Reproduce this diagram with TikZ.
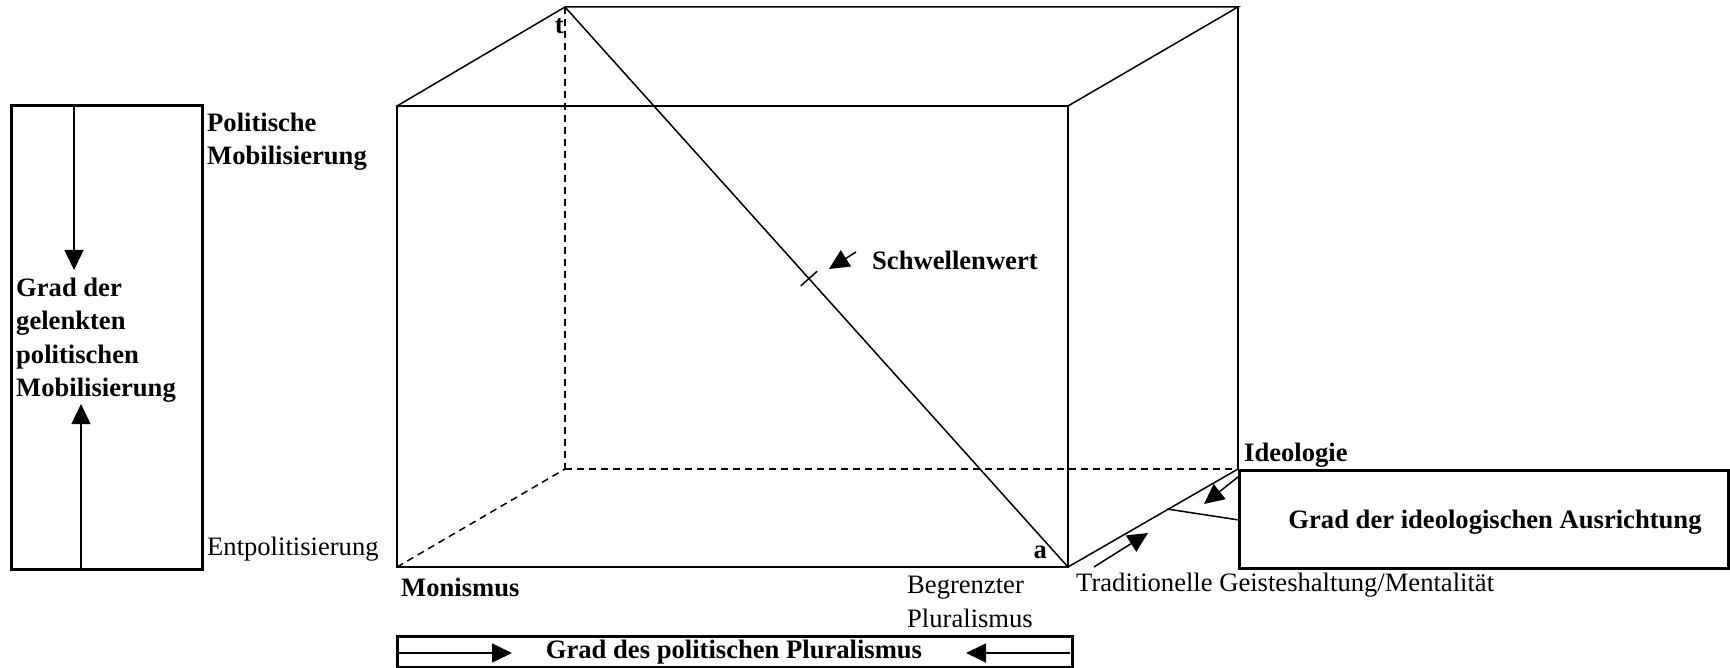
\documentclass[tikz,border=0pt]{standalone}
\usepackage{fontspec}
\setmainfont{Liberation Serif}
\usetikzlibrary{arrows.meta,calc}
\begin{document}
\begin{tikzpicture}[x=1pt,y=-1pt,
  thinl/.style={line width=1.5pt},
  dashl/.style={line width=1.5pt,dash pattern=on 7pt off 5pt},
  boxl/.style={draw,line width=3pt,inner sep=0pt},
  arr/.style={line width=1.5pt,-{Triangle[length=20pt,width=19pt]}},
  txt/.style={inner sep=0pt,font=\fontsize{26.6}{33.5}\selectfont},
  btxt/.style={inner sep=0pt,font=\fontsize{26.6}{33.5}\selectfont\bfseries}]
\useasboundingbox (0,0) rectangle (1730,668);
% cube corners
\coordinate (ftl) at (397,106);
\coordinate (ftr) at (1068,106);
\coordinate (fbl) at (397,567);
\coordinate (fbr) at (1068,567);
\coordinate (btl) at (565,7);
\coordinate (btr) at (1238,7);
\coordinate (bbl) at (565,469);
\coordinate (bbr) at (1238,469);
% hidden edges
\draw[dashl] (btl) -- (bbl);
\draw[dashl] (bbl) -- (bbr);
\draw[dashl] (fbl) -- (bbl);
% visible edges
\draw[thinl] (ftl) -- (ftr) -- (fbr) -- (fbl) -- cycle;
\draw[thinl] (ftl) -- (btl) -- (btr) -- (ftr);
\draw[thinl] (btr) -- (bbr);
\draw[thinl] (fbr) -- (bbr);
% diagonal
\draw[thinl] (btl) -- (fbr);
\coordinate (tick) at ($(btl)!0.485!(fbr)$);
\draw[thinl] ($(tick)!11pt!90:(fbr)$) -- ($(tick)!11pt!-90:(fbr)$);
\node[btxt,anchor=east] (t) at (564,26) {t};
\node[btxt,anchor=east] (a) at (1047,552) {a};
% Schwellenwert
\node[btxt,anchor=west] (schw) at (872,260) {Schwellenwert};
\coordinate (s1) at (856,252);
\coordinate (s2) at (829,269);
\draw[arr] (s1) -- (s2);
% left box
\node[boxl,minimum width=191pt,minimum height=463pt] (lbox) at (107,337.5) {};
\node[btxt,anchor=west,align=left] (lt) at (16,340) {Grad der\\gelenkten\\politischen\\Mobilisierung};
\coordinate (d1) at (74,106);
\coordinate (d2) at (74,270);
\coordinate (u1) at (81,569);
\coordinate (u2) at (81,404);
\draw[arr] (d1) -- (d2);
\draw[arr] (u1) -- (u2);
\node[btxt,anchor=west,align=left] (pm) at (207,141.5) {Politische\\Mobilisierung};
\node[txt,anchor=west] (ent) at (207,549) {Entpolitisierung};
% bottom labels
\node[btxt,anchor=west] (mon) at (401,587) {Monismus};
\node[txt,anchor=west,align=left] (beg) at (907,602) {Begrenzter\\Pluralismus};
% bottom box
\node[boxl,minimum width=675pt,minimum height=31pt] (bbox) at (734.5,651.5) {};
\node[btxt] (bt) at (734,652) {Grad des politischen Pluralismus};
\coordinate (l1) at (399,653);
\coordinate (l2) at (512,653);
\coordinate (r1) at (1070,653);
\coordinate (r2) at (966,653);
\draw[arr] (l1) -- (l2);
\draw[arr] (r1) -- (r2);
% ideology
\node[btxt,anchor=west] (ideo) at (1244,455) {Ideologie};
\node[boxl,minimum width=489pt,minimum height=98pt] (ibox) at (1483.5,519) {};
\node[btxt] (it) at (1495,522) {Grad der ideologischen Ausrichtung};
\coordinate (ib) at (1239,520);
\coordinate (ia) at (1167,509);
\draw[thinl] (ib) -- (ia);
\coordinate (i1) at (1238,477);
\coordinate (i2) at (1204,504);
\draw[arr] (i1) -- (i2);
\coordinate (j1) at (1094,567);
\coordinate (j2) at (1148,533);
\draw[arr] (j1) -- (j2);
\node[txt,anchor=west] (trad) at (1076,585) {Traditionelle Geisteshaltung/Mentalität};
\end{tikzpicture}
\end{document}
